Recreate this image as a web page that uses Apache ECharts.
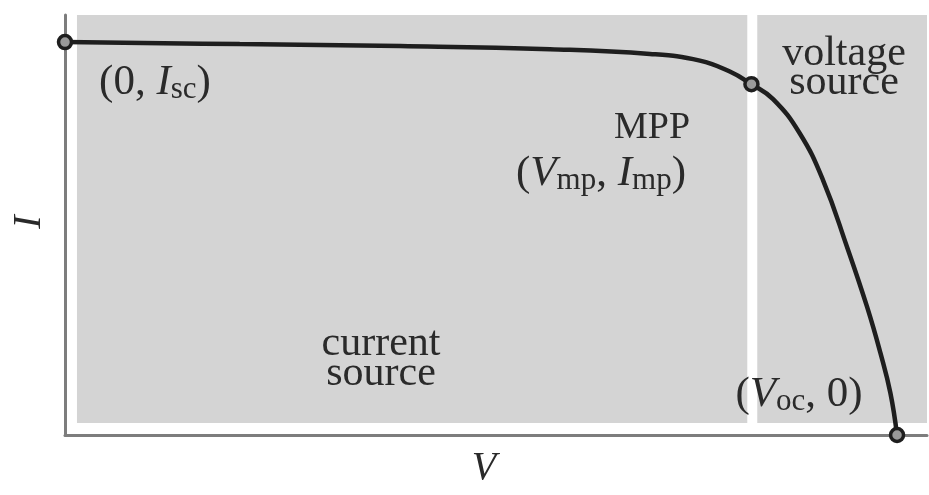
<!doctype html>
<html>
<head>
<meta charset="utf-8">
<title>I-V curve</title>
<script src="https://cdn.jsdelivr.net/npm/echarts@6/dist/echarts.min.js"></script>
<style>
  html, body { margin: 0; height: 100%; background: #fff; }
  #chart { width: 929px; height: 495px; }
</style>
</head>
<body>
<div id="chart"></div>
<script>
// I-V curve, normalised: V in units of Voc, I in units of Isc
var curveV = [0, 0.210, 0.403, 0.583, 0.703, 0.763, 0.799, 0.825, 0.851, 0.883, 0.911, 0.940, 0.964, 0.980, 0.992, 1.000];
var curveI = [1.000, 0.995, 0.990, 0.982, 0.970, 0.953, 0.925, 0.893, 0.855, 0.768, 0.649, 0.478, 0.326, 0.209, 0.107, 0];

// marked points: short circuit, MPP, open circuit
var keyV = [0, 0.825, 1.000];
var keyI = [1.000, 0.893, 0];

// shaded regions [vFrom, vTo, iFrom, iTo]
var currentRegion = [0.0144, 0.820, 0.0305, 1.069];
var voltageRegion = [0.832, 1.036, 0.0305, 1.069];

var vMax = 1.036;
var iMax = 1.069;

var serif = '"Liberation Serif", "DejaVu Serif", serif';
var ink = '#2a2a2a';

function zip(a, b) {
  return a.map(function (v, k) { return [v, b[k]]; });
}
function area(r) {
  return [{ coord: [r[0], r[2]] }, { coord: [r[1], r[3]] }];
}

// rich styles for math labels with subscripts
var mathRich = {
  n:  { fontFamily: serif, fontSize: 43, lineHeight: 44, verticalAlign: 'top', color: ink },
  it: { fontFamily: serif, fontSize: 43, lineHeight: 44, verticalAlign: 'top', fontStyle: 'italic', color: ink },
  s:  { fontFamily: serif, fontSize: 31, lineHeight: 27, verticalAlign: 'bottom', color: ink }
};

function label(x, y, text, extra) {
  var st = {
    text: text, x: 0, y: 0, fill: ink,
    font: '38px ' + serif,
    align: 'center', verticalAlign: 'middle',
    rich: mathRich
  };
  for (var k in extra) st[k] = extra[k];
  return { type: 'text', x: x, y: y, z: 100, style: st };
}

var chart = echarts.init(document.getElementById('chart'));
chart.setOption({
  animation: false,
  backgroundColor: '#fff',
  grid: { left: 65, right: 2, top: 15, bottom: 60 },
  xAxis: {
    type: 'value', min: 0, max: vMax,
    axisLine: { lineStyle: { color: '#7d7d7d', width: 3 } },
    axisTick: { show: false }, axisLabel: { show: false }, splitLine: { show: false }
  },
  yAxis: {
    type: 'value', min: 0, max: iMax,
    axisLine: { lineStyle: { color: '#7d7d7d', width: 3 } },
    axisTick: { show: false }, axisLabel: { show: false }, splitLine: { show: false }
  },
  series: [
    {
      type: 'line',
      data: zip(curveV, curveI),
      smooth: 0.45,
      showSymbol: false,
      clip: false,
      lineStyle: { color: '#1e1e1e', width: 4.5 },
      markArea: {
        silent: true,
        itemStyle: { color: '#d4d4d4' },
        data: [area(currentRegion), area(voltageRegion)]
      },
      z: 3
    },
    {
      type: 'scatter',
      data: zip(keyV, keyI),
      symbol: 'circle',
      symbolSize: 13,
      clip: false,
      itemStyle: { color: '#9a9a9a', borderColor: '#1e1e1e', borderWidth: 3.5, opacity: 1 },
      z: 4
    }
  ],
  graphic: [
    label(155, 83, '{n|(0, }{it|I}{s|sc}{n|)}'),
    label(652, 128, 'MPP'),
    label(601, 174, '{n|(}{it|V}{s|mp}{n|, }{it|I}{s|mp}{n|)}'),
    label(844, 68, 'voltage\nsource', { lineHeight: 29, font: '42px ' + serif }),
    label(381, 359, 'current\nsource', { lineHeight: 30, font: '42px ' + serif }),
    label(799, 395, '{n|(}{it|V}{s|oc}{n|, 0)}'),
    label(484, 468, 'V', { font: 'italic 40px ' + serif }),
    { type: 'text', x: 29, y: 222, rotation: Math.PI / 2, z: 100,
      style: { text: 'I', x: 0, y: 0, fill: ink, font: 'italic 40px ' + serif,
               align: 'center', verticalAlign: 'middle' } }
  ]
});
</script>
</body>
</html>
